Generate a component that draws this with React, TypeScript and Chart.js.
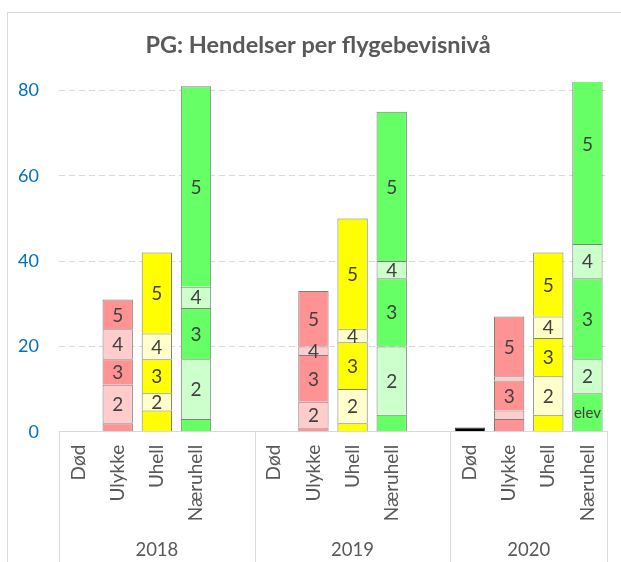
import React, { useEffect, useRef } from 'react';
import { Chart, registerables } from 'chart.js';

Chart.register(...registerables);

// ---------- data ----------
const title = 'PG: Hendelser per flygebevisnivå';
const years = ['2018', '2019', '2020'];
const categories = ['Død', 'Ulykke', 'Uhell', 'Næruhell'];
const levels = ['elev', '2', '3', '4', '5'];

// deaths per year
const dodCounts = [0, 0, 1];

// values per level: [elev, 2, 3, 4, 5]
const ulykke2018 = [2, 9, 6, 7, 7];
const uhell2018 = [5, 4, 8, 6, 19];
const naeruhell2018 = [3, 14, 12, 5, 47];

const ulykke2019 = [1, 6, 11, 2, 13];
const uhell2019 = [2, 8, 11, 3, 26];
const naeruhell2019 = [4, 16, 16, 4, 35];

const ulykke2020 = [3, 2, 7, 1, 14];
const uhell2020 = [4, 9, 9, 5, 15];
const naeruhell2020 = [9, 8, 19, 8, 47];

const yTickValues = [0, 20, 40, 60, 80];
const yMax = 82;

// segment labels that are not shown in the original
const hiddenSegmentLabels = ['2020|Ulykke|2', '2020|Ulykke|4'];
const minLevelLabelValue = 2;
const minElevLabelValue = 6;

// ---------- styling ----------
const FONT = 'Lato, "Open Sans", sans-serif';
const TEXT = '#595959';
const GRID = '#d9d9d9';
const darkShade: Record<string, string> = { Ulykke: '#FF9393', Uhell: '#FFFF00', Næruhell: '#66FF66' };
const lightShade: Record<string, string> = { Ulykke: '#FFCCCC', Uhell: '#FFFFCC', Næruhell: '#CCFFCC' };
const levelIsDark = [true, false, true, false, true];

const valuesByYear: Record<string, Record<string, number[]>> = {
  '2018': { Ulykke: ulykke2018, Uhell: uhell2018, Næruhell: naeruhell2018 },
  '2019': { Ulykke: ulykke2019, Uhell: uhell2019, Næruhell: naeruhell2019 },
  '2020': { Ulykke: ulykke2020, Uhell: uhell2020, Næruhell: naeruhell2020 },
};

type Slot = { year: string | null; cat: string | null; yi: number };
const slots: Slot[] = [];
years.forEach((y, yi) => {
  categories.forEach((c) => slots.push({ year: y, cat: c, yi }));
  if (yi < years.length - 1) slots.push({ year: null, cat: null, yi });
});

export default function App() {
  const ref = useRef<HTMLCanvasElement | null>(null);

  useEffect(() => {
    document.body.style.margin = '0';
    const canvas = ref.current;
    if (!canvas) return;

    const labels = slots.map((s) => s.cat ?? '');

    const dodDataset = {
      label: 'Død',
      data: slots.map((s) => (s.cat === 'Død' ? dodCounts[s.yi] || null : null)),
      backgroundColor: '#000000',
      borderColor: '#404040',
      borderWidth: 1,
      stack: 's',
    };

    const levelDatasets = levels.map((lv, li) => ({
      label: lv,
      data: slots.map((s) =>
        s.year && s.cat && s.cat !== 'Død' ? valuesByYear[s.year][s.cat][li] : null
      ),
      backgroundColor: slots.map((s) =>
        s.cat && s.cat !== 'Død' ? (levelIsDark[li] ? darkShade[s.cat] : lightShade[s.cat]) : '#ffffff'
      ),
      borderColor: '#7F7F7F',
      borderWidth: 1,
      stack: 's',
    }));

    const framePlugin = {
      id: 'frame',
      beforeDraw(chart: any) {
        const ctx = chart.ctx;
        ctx.save();
        ctx.fillStyle = '#ffffff';
        ctx.fillRect(0, 0, chart.width, chart.height);
        ctx.strokeStyle = GRID;
        ctx.lineWidth = 1;
        ctx.strokeRect(7.5, 12.5, chart.width + 20, chart.height + 20);
        // title
        ctx.fillStyle = TEXT;
        ctx.font = `bold 23.5px ${FONT}`;
        ctx.textAlign = 'center';
        ctx.textBaseline = 'middle';
        ctx.fillText(title, 318, 45);
        ctx.restore();
      },
    };

    const segLabelPlugin = {
      id: 'segLabels',
      afterDatasetsDraw(chart: any) {
        const ctx = chart.ctx;
        const area = chart.chartArea;
        ctx.save();
        ctx.beginPath();
        ctx.rect(area.left, area.top, area.right - area.left, area.bottom - area.top);
        ctx.clip();
        ctx.fillStyle = '#404040';
        ctx.textAlign = 'center';
        ctx.textBaseline = 'middle';
        chart.data.datasets.forEach((ds: any, di: number) => {
          if (ds.label === 'Død') return;
          const meta = chart.getDatasetMeta(di);
          meta.data.forEach((el: any, i: number) => {
            const v = ds.data[i];
            const s = slots[i];
            if (v == null || !s.year) return;
            const key = `${s.year}|${s.cat}|${ds.label}`;
            if (hiddenSegmentLabels.includes(key)) return;
            if (ds.label === 'elev') {
              if (v < minElevLabelValue) return;
              ctx.font = `15px ${FONT}`;
            } else {
              if (v < minLevelLabelValue) return;
              ctx.font = `19px ${FONT}`;
            }
            const { x, y, base } = el.getProps(['x', 'y', 'base'], true);
            ctx.fillText(ds.label, x, (y + base) / 2 + 1);
          });
        });
        ctx.restore();
      },
    };

    const xAxisPlugin = {
      id: 'xAxisLabels',
      afterDraw(chart: any) {
        const ctx = chart.ctx;
        const xs = chart.scales.x;
        const area = chart.chartArea;
        const half = (xs.getPixelForValue(1) - xs.getPixelForValue(0)) / 2;
        ctx.save();
        // separators
        ctx.strokeStyle = GRID;
        ctx.lineWidth = 1;
        const seps: number[] = [area.left];
        slots.forEach((s, i) => {
          if (!s.year) seps.push(xs.getPixelForValue(i) + half);
        });
        seps.push(area.right);
        seps.forEach((sx) => {
          const px = Math.round(sx) + 0.5;
          ctx.beginPath();
          ctx.moveTo(px, area.bottom);
          ctx.lineTo(px, chart.height);
          ctx.stroke();
        });
        // category labels
        ctx.fillStyle = TEXT;
        ctx.font = `19px ${FONT}`;
        ctx.textAlign = 'right';
        ctx.textBaseline = 'middle';
        slots.forEach((s, i) => {
          if (!s.cat) return;
          const x = xs.getPixelForValue(i);
          ctx.save();
          ctx.translate(x, area.bottom + 13);
          ctx.rotate(-Math.PI / 2);
          ctx.fillText(s.cat, 0, 0);
          ctx.restore();
        });
        // year labels
        ctx.font = `18.5px ${FONT}`;
        ctx.textAlign = 'center';
        ctx.textBaseline = 'middle';
        years.forEach((y, yi) => {
          const cx = (seps[yi] + seps[yi + 1]) / 2;
          ctx.fillText(y, cx, area.bottom + 118);
        });
        ctx.restore();
      },
    };

    const chart = new Chart(canvas, {
      type: 'bar',
      data: { labels, datasets: [dodDataset, ...levelDatasets] as any },
      options: {
        responsive: false,
        animation: false,
        layout: { padding: { left: 7, right: 14, top: 82, bottom: 0 } },
        datasets: { bar: { barPercentage: 0.775, categoryPercentage: 1 } },
        plugins: {
          legend: { display: false },
          tooltip: { enabled: false },
          title: { display: false },
        },
        scales: {
          x: {
            stacked: true,
            grid: { display: false },
            border: { display: true, color: GRID, width: 1 },
            ticks: { display: false },
            afterFit: (scale: any) => {
              scale.height = 130.3;
            },
          },
          y: {
            stacked: true,
            min: 0,
            max: yMax,
            afterBuildTicks: (scale: any) => {
              scale.ticks = yTickValues.map((v) => ({ value: v }));
            },
            afterFit: (scale: any) => {
              scale.width = 52;
            },
            grid: {
              color: (c: any) => (c.tick && c.tick.value === 0 ? 'rgba(0,0,0,0)' : GRID),
              drawTicks: false,
            },
            border: { display: false, dash: [6, 4] },
            ticks: {
              color: '#0070C0',
              font: { family: FONT, size: 18 },
              padding: 20,
            },
          },
        },
      },
      plugins: [framePlugin, segLabelPlugin, xAxisPlugin],
    });

    return () => chart.destroy();
  }, []);

  return (
    <div style={{ width: 621, height: 562 }}>
      <canvas ref={ref} width={621} height={562} />
    </div>
  );
}
